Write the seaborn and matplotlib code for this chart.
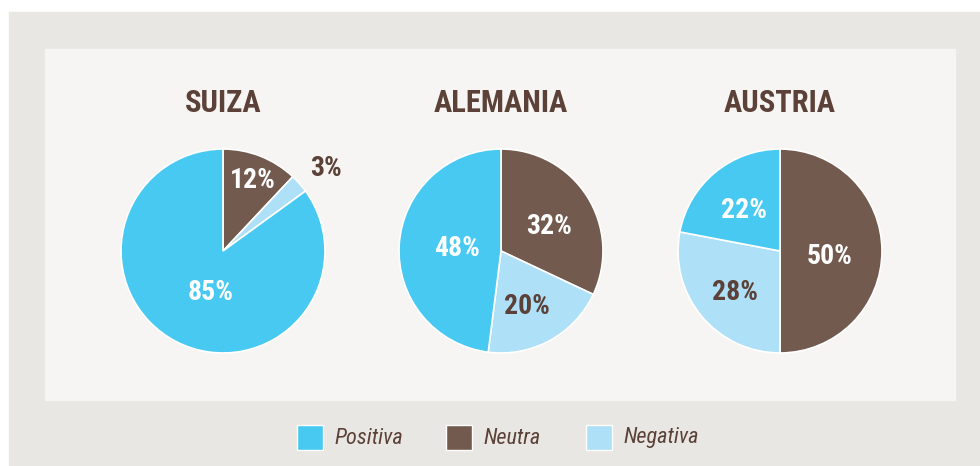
import matplotlib
matplotlib.use("Agg")
import matplotlib.pyplot as plt
from matplotlib.patches import Rectangle
from matplotlib import font_manager
import seaborn as sns

# Survey results per country (percent)
countries = ["SUIZA", "ALEMANIA", "AUSTRIA"]
categories = ["Neutra", "Negativa", "Positiva"]
neutra = [12, 32, 50]
negativa = [3, 20, 28]
positiva = [85, 48, 22]
legend_order = ["Positiva", "Neutra", "Negativa"]

sns.set_theme(style="white")
palette = dict(zip(["Positiva", "Neutra", "Negativa"],
                   sns.color_palette(["#48c9f2", "#735a4f", "#aee0f7"])))
brown_text = "#5b4137"

installed = {f.name for f in font_manager.fontManager.ttflist}
narrow = next((n for n in ["Roboto Condensed", "Barlow Condensed", "DejaVu Sans"]
               if n in installed))

W, H = 980, 466
fig = plt.figure(figsize=(W / 100, H / 100), dpi=100, facecolor="white")

# card background and inner panel
bg = fig.add_axes([0, 0, 1, 1], zorder=0)
bg.set_xlim(0, W)
bg.set_ylim(H, 0)
bg.axis("off")
bg.add_patch(Rectangle((9, 12), W - 9, H - 12, color="#e9e7e3", zorder=0))
bg.add_patch(Rectangle((45, 49), 910, 351, color="#f6f5f3", zorder=1))

centers = [223, 501, 780]
cy, r = 251, 103
for i, name in enumerate(countries):
    vals = [neutra[i], negativa[i], positiva[i]]
    ax = fig.add_axes([(centers[i] - r) / W, (H - cy - r) / H, 2 * r / W, 2 * r / H],
                      zorder=1)
    ax.pie(vals, colors=[palette[c] for c in categories], startangle=90,
           counterclock=False, radius=1,
           wedgeprops=dict(edgecolor="white", linewidth=1.2))
    ax.set_xlim(-1.01, 1.01)
    ax.set_ylim(-1.01, 1.01)
    ax.set_aspect("equal")
    ax.axis("off")

# text layer above the pies
top = fig.add_axes([0, 0, 1, 1], zorder=2)
top.set_xlim(0, W)
top.set_ylim(H, 0)
top.axis("off")
top.patch.set_alpha(0)

cond = dict(family=narrow, fontweight="bold")
for i, name in enumerate(countries):
    top.text(centers[i], 103, name, ha="center", va="center",
             color=brown_text, fontsize=22, **cond)

# value labels: (x, y, text colour) in pixel space of the card
label_pos = {
    "SUIZA": [(253, 181, "white"), (326, 168, brown_text), (211, 293, "white")],
    "ALEMANIA": [(549, 227, "white"), (527, 307, brown_text), (457, 248, "white")],
    "AUSTRIA": [(830, 256, "white"), (735, 292, brown_text), (744, 210, "white")],
}
for i, name in enumerate(countries):
    vals = [neutra[i], negativa[i], positiva[i]]
    for (x, y, col), v in zip(label_pos[name], vals):
        top.text(x, y, f"{v}%", ha="center", va="center", color=col,
                 fontsize=20, **cond)

# legend
leg_x = [297, 446, 586]
for x, lab in zip(leg_x, legend_order):
    top.add_patch(Rectangle((x, 425), 26, 25, facecolor=palette[lab],
                            edgecolor="white", linewidth=1))
    top.text(x + 37, 438, lab, ha="left", va="center", color=brown_text,
             fontsize=16, fontstyle="italic", family=narrow)

fig.savefig("out.png", dpi=100, facecolor="white")
